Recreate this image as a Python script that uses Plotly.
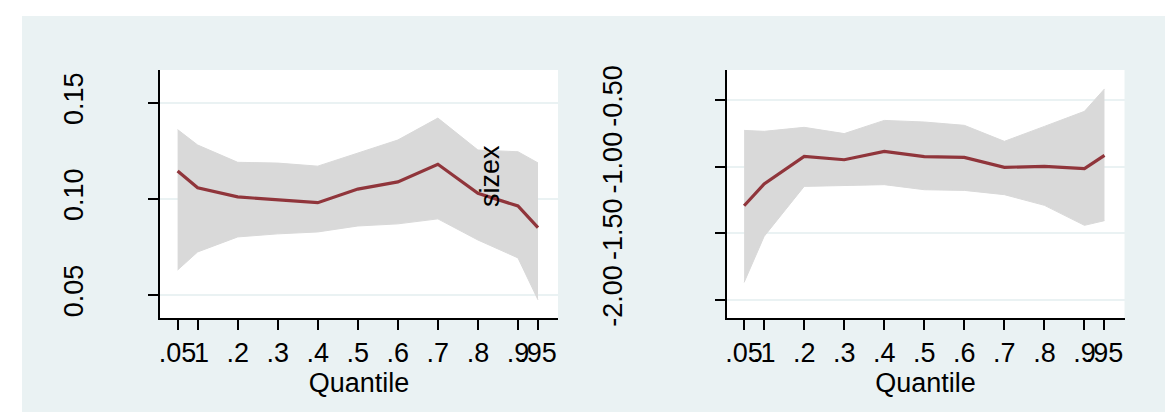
import plotly.graph_objects as go

# ---------------- data ----------------
quantiles = [0.05, 0.1, 0.2, 0.3, 0.4, 0.5, 0.6, 0.7, 0.8, 0.9, 0.95]
x_tick_labels = [".05", ".1", ".2", ".3", ".4", ".5", ".6", ".7", ".8", ".9", ".95"]

left_coef = [0.1145, 0.1058, 0.1010, 0.0995, 0.0980, 0.1051, 0.1088, 0.1180, 0.1029, 0.0963, 0.0850]
left_upper = [0.1360, 0.1280, 0.1190, 0.1186, 0.1170, 0.1240, 0.1306, 0.1420, 0.1254, 0.1245, 0.1187]
left_lower = [0.0630, 0.0724, 0.0802, 0.0818, 0.0828, 0.0859, 0.0870, 0.0896, 0.0786, 0.0693, 0.0475]
left_yticks = [0.05, 0.10, 0.15]

right_coef = [-1.293, -1.130, -0.923, -0.948, -0.885, -0.925, -0.930, -1.005, -0.998, -1.015, -0.915]
right_upper = [-0.728, -0.735, -0.705, -0.752, -0.653, -0.665, -0.690, -0.810, -0.698, -0.585, -0.417]
right_lower = [-1.868, -1.523, -1.148, -1.143, -1.135, -1.173, -1.178, -1.210, -1.290, -1.440, -1.405]
right_yticks = [-2.00, -1.50, -1.00, -0.50]

left_title = "sizex"
x_title = "Quantile"

# ---------------- style ----------------
OFF = 8                      # the page body margin in front of the figure
W, H = 1173 - OFF, 412 - OFF
FONT = "Liberation Sans, Arial, sans-serif"
BG = "#EAF2F3"
BAND = "#D9D9D9"
LINE = "#90353B"
FS = 27


def px_x(p):
    return (p - OFF) / W


def px_y(p):
    return 1 - (p - OFF) / H


fig = go.Figure()


def add_panel(xa, ya, lower, upper, coef):
    fig.add_trace(go.Scatter(x=quantiles, y=lower, xaxis=xa, yaxis=ya, mode="lines",
                             line=dict(color=BAND, width=1), hoverinfo="skip", showlegend=False))
    fig.add_trace(go.Scatter(x=quantiles, y=upper, xaxis=xa, yaxis=ya, mode="lines",
                             line=dict(color=BAND, width=1), fill="tonexty", fillcolor=BAND,
                             hoverinfo="skip", showlegend=False))
    fig.add_trace(go.Scatter(x=quantiles, y=coef, xaxis=xa, yaxis=ya, mode="lines",
                             line=dict(color=LINE, width=3.2), showlegend=False))


add_panel("x", "y", left_lower, left_upper, left_coef)
add_panel("x2", "y2", right_lower, right_upper, right_coef)

common_x = dict(range=[0.006, 1.0], tickmode="array", tickvals=quantiles, ticktext=x_tick_labels,
                tickangle=0, showline=True, linecolor="black", linewidth=2, ticks="outside",
                ticklen=10, tickwidth=2, tickcolor="black", showgrid=False, zeroline=False,
                tickfont=dict(family=FONT, size=FS, color="black"), automargin=False,
                ticklabelstandoff=0,
                title=dict(text=x_title, font=dict(family=FONT, size=FS, color="black"), standoff=0))
common_y = dict(showline=True, linecolor="black", linewidth=2, ticks="outside", ticklen=10,
                tickwidth=2, tickcolor="black", showgrid=True, gridcolor=BG, gridwidth=2,
                zeroline=False, tickangle=-90, automargin=False, tickmode="array",
                tickfont=dict(family=FONT, size=FS, color="black"))

ydom = [px_y(318), px_y(70)]
fig.update_layout(
    width=W, height=H,
    margin=dict(l=0, r=0, t=0, b=0),
    paper_bgcolor=BG, plot_bgcolor="white",
    template="none",
    showlegend=False,
    xaxis=dict(domain=[px_x(160), px_x(558)], anchor="y", **common_x),
    yaxis=dict(domain=ydom, anchor="x", range=[0.03805, 0.167],
               tickvals=left_yticks, ticktext=[f"{v:.2f}" for v in left_yticks],
               ticklabelstandoff=54, **common_y),
    xaxis2=dict(domain=[px_x(726.5), px_x(1124.5)], anchor="y2", **common_x),
    yaxis2=dict(domain=ydom, anchor="x2", range=[-2.135, -0.275],
                tickvals=right_yticks, ticktext=[f"{v:.2f}" for v in right_yticks],
                ticklabelstandoff=82, **common_y),
)

# white page margin around the graph region
fig.add_shape(type="rect", xref="paper", yref="paper", x0=0, x1=1, y0=px_y(16), y1=1,
              fillcolor="white", line_width=0, layer="below")
fig.add_shape(type="rect", xref="paper", yref="paper", x0=0, x1=px_x(22), y0=0, y1=1,
              fillcolor="white", line_width=0, layer="below")

fig.add_annotation(text=left_title, xref="paper", yref="paper", x=px_x(490), y=px_y(176),
                   textangle=-90, showarrow=False, xanchor="center", yanchor="middle",
                   font=dict(family=FONT, size=FS, color="black"))

fig.write_html("out.html")
